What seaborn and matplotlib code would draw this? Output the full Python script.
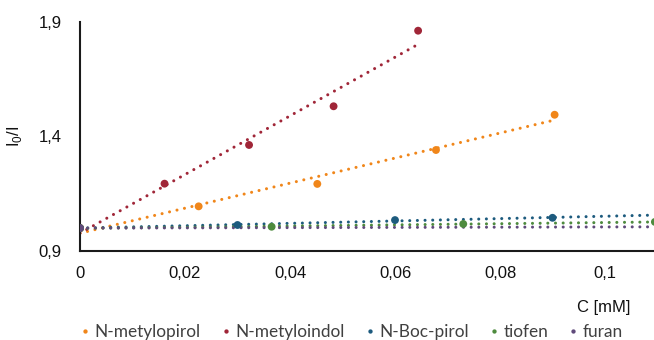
import numpy as np
import pandas as pd
import matplotlib
matplotlib.use("Agg")
import matplotlib.pyplot as plt
import seaborn as sns
from matplotlib.ticker import FuncFormatter, FixedLocator

# ---- data ----
series_names = ["N-metylopirol", "N-metyloindol", "N-Boc-pirol", "tiofen", "furan"]
x_metylopirol = [0.0, 0.0226, 0.0452, 0.0678, 0.0904]
y_metylopirol = [1.0, 1.095, 1.193, 1.341, 1.495]
x_metyloindol = [0.0, 0.0161, 0.0322, 0.0483, 0.0644]
y_metyloindol = [1.0, 1.194, 1.363, 1.532, 1.862]
x_boc = [0.0, 0.030, 0.060, 0.090, 0.120]
y_boc = [1.0, 1.0135, 1.035, 1.045, 1.062]
x_tiofen = [0.0, 0.0365, 0.073, 0.1095]
y_tiofen = [1.0, 1.006, 1.018, 1.027]
x_furan = [0.0, 0.120, 0.150]
y_furan = [1.0, 1.006, 1.0075]
colors = ["#F0861A", "#A02638", "#1D5B7E", "#4E8B3E", "#604A7B"]
x_ticks = [0, 0.02, 0.04, 0.06, 0.08, 0.1]
y_ticks = [0.9, 1.4, 1.9]

xs = [x_metylopirol, x_metyloindol, x_boc, x_tiofen, x_furan]
ys = [y_metylopirol, y_metyloindol, y_boc, y_tiofen, y_furan]
df = pd.concat([pd.DataFrame({"C": x, "I": y, "seria": n})
                for x, y, n in zip(xs, ys, series_names)], ignore_index=True)

sns.set_style("white")
plt.rcParams["font.family"] = ["Liberation Sans", "DejaVu Sans"]

fig = plt.figure(figsize=(6.54, 3.40), dpi=100)
ax = fig.add_axes([80 / 654, 1 - 251 / 340, 1 - 80 / 654, (251 - 22) / 340])

palette = dict(zip(series_names, colors))
# trendlines
for n in series_names:
    sub = df[df["seria"] == n]
    sns.regplot(data=sub, x="C", y="I", ax=ax, scatter=False, ci=None,
                truncate=True, color=palette[n],
                line_kws=dict(linestyle=(0, (0.01, 2.5)), linewidth=2.2,
                              dash_capstyle="round", zorder=2))
sns.scatterplot(data=df, x="C", y="I", hue="seria", palette=palette, ax=ax,
                s=32, linewidth=0, zorder=3, legend=True)

handles, labels = ax.get_legend_handles_labels()
ax.get_legend().remove()

ax.set_xlim(0, 0.10933)
ax.set_ylim(0.9, 1.9)
ax.xaxis.set_major_locator(FixedLocator(x_ticks))
ax.yaxis.set_major_locator(FixedLocator(y_ticks))
fmt = FuncFormatter(lambda v, p: ("%g" % round(v, 3)).replace(".", ","))
ax.xaxis.set_major_formatter(fmt)
ax.yaxis.set_major_formatter(fmt)
ax.tick_params(axis="both", length=0, labelsize=12, colors="#111111")
for lab in ax.get_xticklabels() + ax.get_yticklabels():
    lab.set_family(["Liberation Sans", "DejaVu Sans"])
ax.tick_params(axis="x", pad=11)
ax.tick_params(axis="y", pad=13)
for s in ["top", "right"]:
    ax.spines[s].set_visible(False)
for s in ["left", "bottom"]:
    ax.spines[s].set_color("#1a1a1a")
    ax.spines[s].set_linewidth(1.5)
ax.grid(False)

ax.set_xlabel("C [mM]", fontsize=12, color="#111111")
ax.set_ylabel("I$_\\mathregular{0}$/I", fontsize=12, color="#111111")
ax.xaxis.set_label_coords((604 - 80) / 574, (251 - 300) / 229)
ax.yaxis.set_label_coords((24 - 80) / 574, 0.5)

leg = fig.legend(handles, labels, loc="center", bbox_to_anchor=(352 / 654, 1 - 332 / 340),
                 ncol=5, frameon=False, handlelength=0.5, handletextpad=0.3,
                 columnspacing=1.2, markerscale=0.55,
                 prop={"family": "Lato", "size": 12.4})
for t in leg.get_texts():
    t.set_color("#404040")

fig.savefig("out.png", dpi=100)
